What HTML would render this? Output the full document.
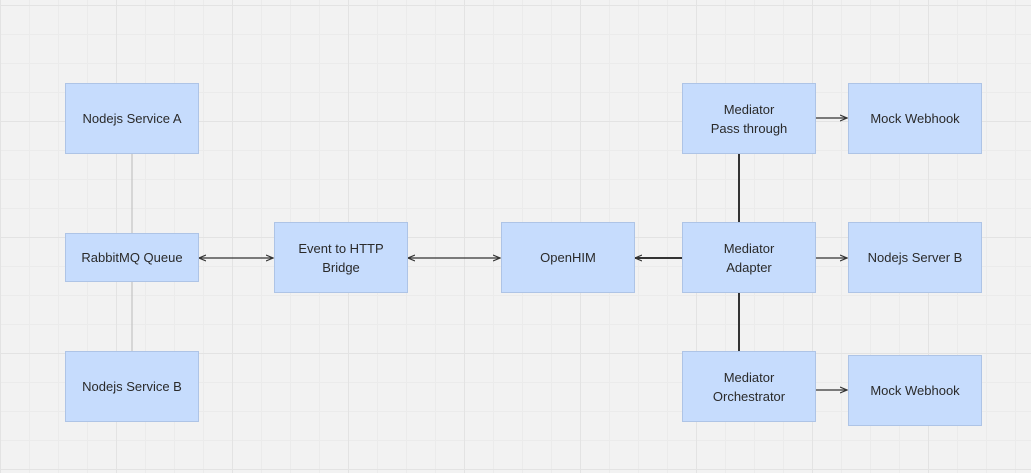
<!DOCTYPE html>
<html><head><style>
body{margin:0;width:1031px;height:473px;overflow:hidden;background:#f2f2f2;font-family:"Liberation Sans",sans-serif;}
.g{position:absolute;left:0;top:0;width:1031px;height:473px;
background-image:
linear-gradient(to right,#e3e3e3 1px,transparent 1px),
linear-gradient(to bottom,#e3e3e3 1px,transparent 1px),
linear-gradient(to right,#ebebeb 1px,transparent 1px),
linear-gradient(to bottom,#ebebeb 1px,transparent 1px);
background-size:116px 116px,116px 116px,29px 29px,29px 29px;
background-position:0 5px,0 5px,0 5px,0 5px;}
.b{position:absolute;width:134px;background:#c6dcfd;border:1px solid #aec4e6;display:flex;align-items:center;justify-content:center;text-align:center;font-size:13px;color:#2a2a2a;line-height:19px;box-sizing:border-box;}
svg{position:absolute;left:0;top:0}
</style></head><body>
<div class="g"></div>
<svg width="1031" height="473">
<defs><marker id="a" markerWidth="8" markerHeight="8" refX="7" refY="4" orient="auto-start-reverse" markerUnits="userSpaceOnUse"><path d="M0,1 L7,4 L0,7" fill="none" stroke="#333" stroke-width="1.2"/></marker></defs>
<g stroke="#bbb" stroke-width="1"><line x1="132" y1="153" x2="132" y2="233"/><line x1="132" y1="282" x2="132" y2="351"/></g>
<g stroke="#333" stroke-width="1.3">
<line x1="199" y1="258" x2="273" y2="258" marker-start="url(#a)" marker-end="url(#a)"/>
<line x1="408" y1="258" x2="500" y2="258" marker-start="url(#a)" marker-end="url(#a)"/>
<line x1="682" y1="258" x2="635" y2="258" stroke-width="2" marker-end="url(#a)"/>
<line x1="816" y1="258" x2="847" y2="258" marker-end="url(#a)"/>
<line x1="816" y1="118" x2="847" y2="118" marker-end="url(#a)"/>
<line x1="816" y1="390" x2="847" y2="390" marker-end="url(#a)"/>
<line x1="739" y1="153" x2="739" y2="222" stroke-width="2"/>
<line x1="739" y1="292" x2="739" y2="351" stroke-width="2"/>
</g></svg>
<div class="b" style="left:65px;top:83px;height:71px">Nodejs Service A</div>
<div class="b" style="left:65px;top:233px;height:49px">RabbitMQ Queue</div>
<div class="b" style="left:65px;top:351px;height:71px">Nodejs Service B</div>
<div class="b" style="left:274px;top:222px;height:71px">Event to HTTP<br>Bridge</div>
<div class="b" style="left:501px;top:222px;height:71px">OpenHIM</div>
<div class="b" style="left:682px;top:83px;height:71px">Mediator<br>Pass through</div>
<div class="b" style="left:682px;top:222px;height:71px">Mediator<br>Adapter</div>
<div class="b" style="left:682px;top:351px;height:71px">Mediator<br>Orchestrator</div>
<div class="b" style="left:848px;top:83px;height:71px">Mock Webhook</div>
<div class="b" style="left:848px;top:222px;height:71px">Nodejs Server B</div>
<div class="b" style="left:848px;top:355px;height:71px">Mock Webhook</div>
</body></html>
